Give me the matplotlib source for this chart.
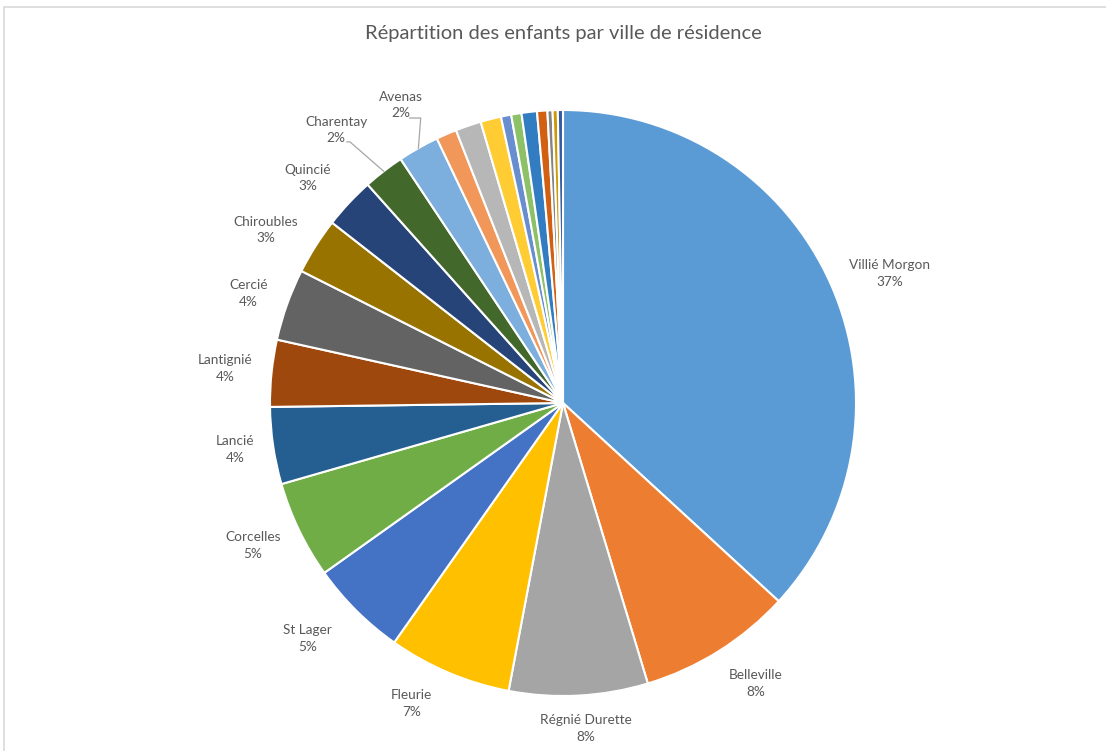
import matplotlib.pyplot as plt
import numpy as np
from matplotlib.patches import Rectangle

# donnees (nombre d'enfants par ville)
villes = ['Villié Morgon', 'Belleville', 'Régnié Durette', 'Fleurie', 'St Lager',
          'Corcelles', 'Lancié', 'Lantignié', 'Cercié', 'Chiroubles', 'Quincié',
          'Charentay', 'Avenas']
effectifs = [130, 30, 27, 24, 19, 19, 15, 13, 14, 11, 10, 8, 8,
             4, 5, 4, 2, 2, 3, 2, 1, 1, 1]  # les 10 dernieres villes n'ont pas d'etiquette
couleurs = ['#5B9BD5', '#ED7D31', '#A5A5A5', '#FFC000', '#4472C4', '#70AD47',
            '#255E91', '#9E480E', '#636363', '#997300', '#264478', '#43682B',
            '#7CAFDD', '#F1975A', '#B7B7B7', '#FFCD33', '#698ED0', '#8CC168',
            '#327DC2', '#D26012', '#848484', '#CC9A00', '#335AA1']

W, H = 1106, 751
cx, cy, R = 563, 403, 293  # centre et rayon du camembert en pixels

fig = plt.figure(figsize=(W / 100, H / 100), dpi=100)
ax = fig.add_axes([0, 0, 1, 1])

# cadre gris de la zone de graphique
fig.patches.append(Rectangle((4 / W, -0.1), 1.2, (H - 7) / H + 0.1, transform=fig.transFigure,
                             fill=False, edgecolor='#D9D9D9', linewidth=1.2))

wedges, _ = ax.pie(effectifs, colors=couleurs, startangle=90, counterclock=False,
                   radius=1, center=(0, 0),
                   wedgeprops=dict(edgecolor='white', linewidth=1.5))
ax.set_aspect('equal')
ax.set_xlim(-cx / R, (W - cx) / R)
ax.set_ylim((cy - H) / R, cy / R)
ax.axis('off')

total = sum(effectifs)
gris = '#595959'
# placement des etiquettes : distance au centre et decalage angulaire (degres)
dist = [1.200, 1.161, 1.113, 1.148, 1.186, 1.164, 1.130, 1.160, 1.137, 1.175, 1.161, 1.212, 1.158]
decal = [2.1, -2.4, -0.9, 3.8, 2.5, 1.1, 0.3, -0.1, -0.5, -2.2, -1.7, -2.0, 1.0]
repere = {'Charentay': (11, 12, 3), 'Avenas': (9, 13, 11)}  # depart et longueur du trait (px)
for i, nom in enumerate(villes):
    w = wedges[i]
    mid = (w.theta1 + w.theta2) / 2
    a = np.deg2rad(mid - decal[i])
    x, y = dist[i] * np.cos(a), dist[i] * np.sin(a)
    pct = round(100 * effectifs[i] / total)
    ax.text(x, y, f'{nom}\n{pct}%', ha='center', va='center', fontsize=9.8,
            color=gris, family='Lato', linespacing=1.48)
    if nom in repere:  # lignes de repere
        dx, dy, l = repere[nom]
        x0, y0 = x + dx / R, y - dy / R
        am = np.deg2rad(mid)
        ax.plot([x0, x0 + l / R, np.cos(am)], [y0, y0, np.sin(am)], color='#A6A6A6', lw=0.9)

fig.text(cx / W, 1 - 33 / H, 'Répartition des enfants par ville de résidence',
         ha='center', va='center', fontsize=14.5, color=gris, family='Lato')

plt.savefig('out.png', dpi=100)
